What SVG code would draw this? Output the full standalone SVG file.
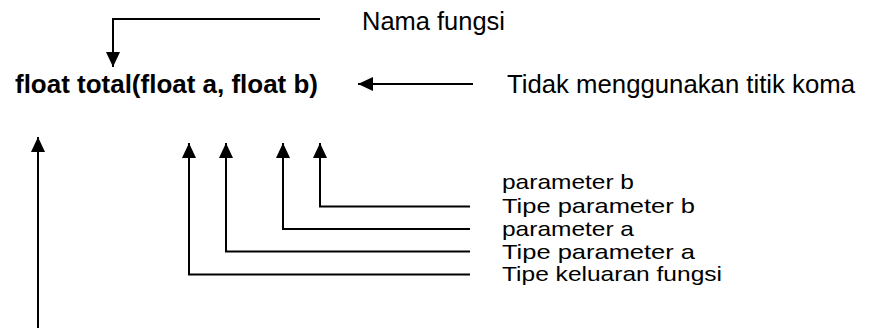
<svg xmlns="http://www.w3.org/2000/svg" width="869" height="329" viewBox="0 0 869 329">
<style>
text{font-family:"Liberation Sans",Arial,sans-serif;font-size:25px;fill:#000}
.b{font-weight:bold}
.s{font-size:21px}
.c{fill:none;stroke:#000;stroke-width:2}
</style>
<defs>
<marker id="ah" viewBox="0 0 15 14" refX="15" refY="7" markerWidth="15" markerHeight="14" markerUnits="userSpaceOnUse" orient="auto">
<path d="M0,0 L15,7 L0,14 Z" fill="#000"/>
</marker>
</defs>
<rect width="869" height="329" fill="#fff"/>
<g id="func"><text class="b" x="15" y="93" textLength="303" lengthAdjust="spacingAndGlyphs">float total(float a, float b)</text></g>
<g id="nama"><text x="362" y="30" textLength="143" lengthAdjust="spacingAndGlyphs">Nama fungsi</text></g>
<g id="tidak"><text x="507" y="93" textLength="348" lengthAdjust="spacingAndGlyphs">Tidak menggunakan titik koma</text></g>
<g id="pb"><text class="s" x="502" y="189" textLength="132" lengthAdjust="spacingAndGlyphs">parameter b</text></g>
<g id="tpb"><text class="s" x="502" y="213" textLength="193" lengthAdjust="spacingAndGlyphs">Tipe parameter b</text></g>
<g id="pa"><text class="s" x="502" y="236" textLength="132" lengthAdjust="spacingAndGlyphs">parameter a</text></g>
<g id="tpa"><text class="s" x="502" y="259" textLength="193" lengthAdjust="spacingAndGlyphs">Tipe parameter a</text></g>
<g id="tkf"><text class="s" x="502" y="281" textLength="220" lengthAdjust="spacingAndGlyphs">Tipe keluaran fungsi</text></g>
<g id="connectors">
<path class="c" d="M320,19 H113 V67" marker-end="url(#ah)"/>
<path class="c" d="M473,84 H358" marker-end="url(#ah)"/>
<path class="c" d="M470,206.5 H320 V143" marker-end="url(#ah)"/>
<path class="c" d="M470,229 H283 V143" marker-end="url(#ah)"/>
<path class="c" d="M470,251.5 H226 V143" marker-end="url(#ah)"/>
<path class="c" d="M470,274.5 H189 V143" marker-end="url(#ah)"/>
<path class="c" d="M38,328 V137" marker-end="url(#ah)"/>
</g>
</svg>
